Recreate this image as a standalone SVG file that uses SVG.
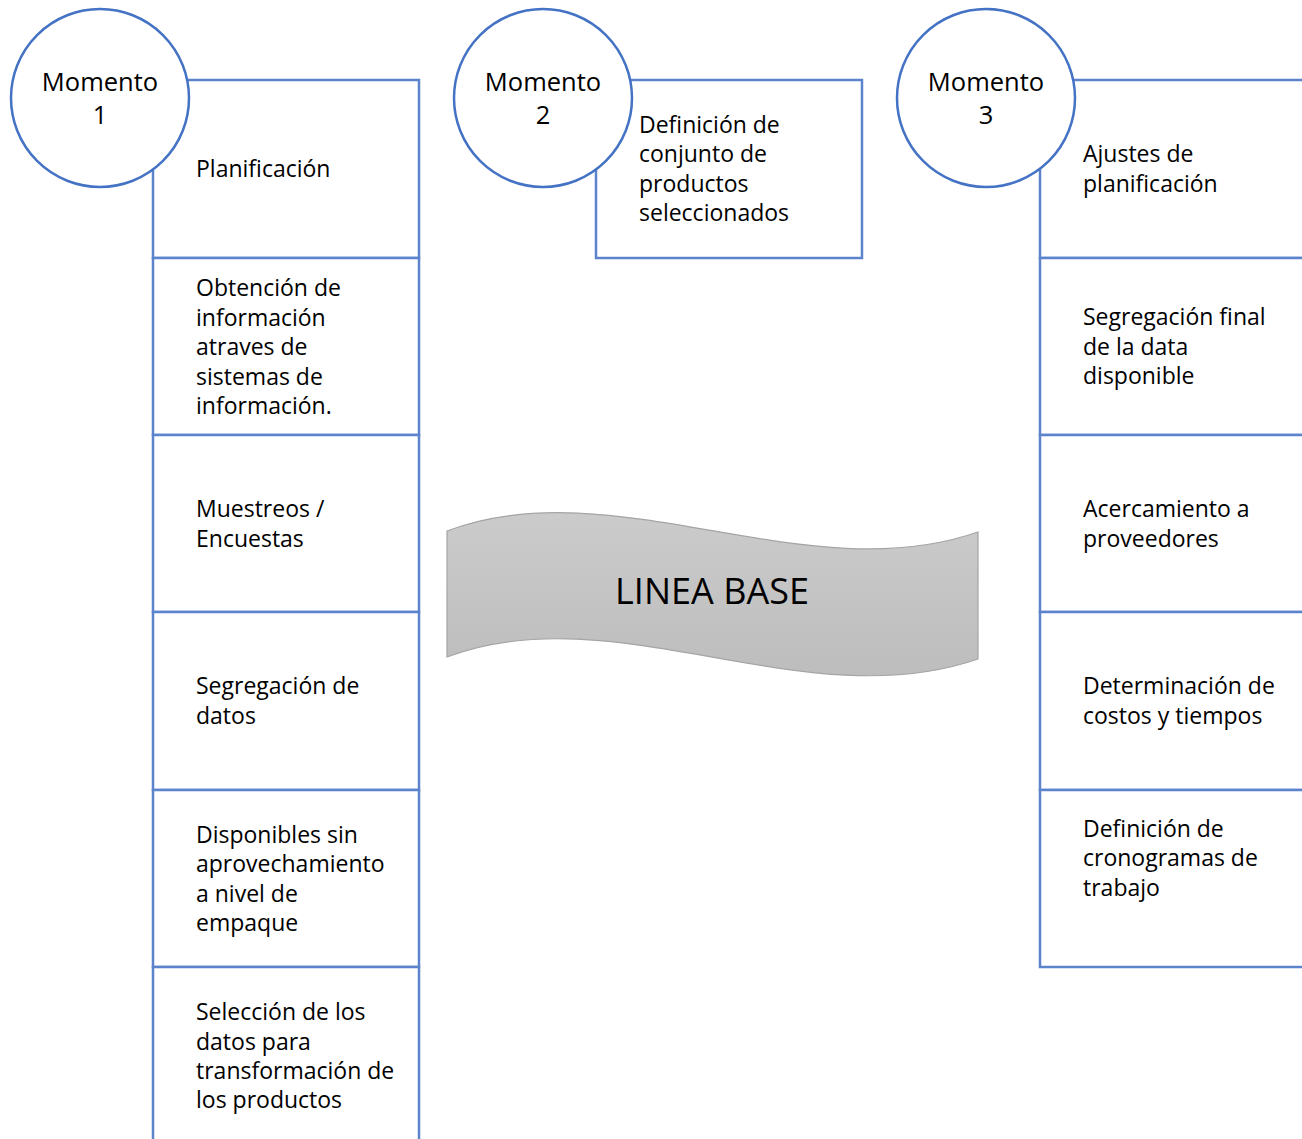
<svg xmlns="http://www.w3.org/2000/svg" width="1302" height="1139" viewBox="0 0 1302 1139">
  <defs>
    <linearGradient id="bannerFill" x1="0" y1="0" x2="0" y2="1">
      <stop offset="0" stop-color="#cbcbcb"/>
      <stop offset="1" stop-color="#bdbdbd"/>
    </linearGradient>
  </defs>
  <style>
    .box { fill: #ffffff; stroke: #5b84cc; stroke-width: 2.5; }
    .moment { fill: #ffffff; stroke: #4472c4; stroke-width: 2.5; }
    .label { font-family: "Open Sans", "Noto Sans", sans-serif; font-size: 23px; fill: #000000; }
    .title { font-family: "Open Sans", "Noto Sans", sans-serif; font-size: 25.5px; fill: #000000; text-anchor: middle; }
    .banner { fill: url(#bannerFill); stroke: #a5a5a5; stroke-width: 1.2; }
    .banner-text { font-family: "Open Sans", "Noto Sans", sans-serif; font-size: 36px; fill: #000000; text-anchor: middle; }
  </style>
  <rect width="1302" height="1139" fill="#ffffff"/>

  <!-- Column 1 steps -->
  <g id="m1-planificacion">
    <rect class="box" x="153" y="80" width="266" height="178"/>
    <text class="label" x="196" y="177">Planificación</text>
  </g>
  <g id="m1-obtencion">
    <rect class="box" x="153" y="258" width="266" height="177"/>
    <text class="label" x="196" y="296">Obtención de</text>
    <text class="label" x="196" y="325.5">información</text>
    <text class="label" x="196" y="355">atraves de</text>
    <text class="label" x="196" y="384.5">sistemas de</text>
    <text class="label" x="196" y="414">información.</text>
  </g>
  <g id="m1-muestreos">
    <rect class="box" x="153" y="435" width="266" height="177"/>
    <text class="label" x="196" y="517">Muestreos /</text>
    <text class="label" x="196" y="547">Encuestas</text>
  </g>
  <g id="m1-segregacion">
    <rect class="box" x="153" y="612" width="266" height="178"/>
    <text class="label" x="196" y="694">Segregación de</text>
    <text class="label" x="196" y="724">datos</text>
  </g>
  <g id="m1-disponibles">
    <rect class="box" x="153" y="790" width="266" height="177"/>
    <text class="label" x="196" y="843">Disponibles sin</text>
    <text class="label" x="196" y="872">aprovechamiento</text>
    <text class="label" x="196" y="902">a nivel de</text>
    <text class="label" x="196" y="931">empaque</text>
  </g>
  <g id="m1-seleccion">
    <rect class="box" x="153" y="967" width="266" height="185"/>
    <text class="label" x="196" y="1020">Selección de los</text>
    <text class="label" x="196" y="1050">datos para</text>
    <text class="label" x="196" y="1079">transformación de</text>
    <text class="label" x="196" y="1108">los productos</text>
  </g>

  <!-- Column 2 step -->
  <g id="m2-definicion">
    <rect class="box" x="596" y="80" width="266" height="178"/>
    <text class="label" x="639" y="133">Definición de</text>
    <text class="label" x="639" y="162">conjunto de</text>
    <text class="label" x="639" y="192">productos</text>
    <text class="label" x="639" y="221">seleccionados</text>
  </g>

  <!-- Column 3 steps -->
  <g id="m3-ajustes">
    <rect class="box" x="1040" y="80" width="266" height="178"/>
    <text class="label" x="1083" y="162">Ajustes de</text>
    <text class="label" x="1083" y="192">planificación</text>
  </g>
  <g id="m3-segregacion">
    <rect class="box" x="1040" y="258" width="266" height="177"/>
    <text class="label" x="1083" y="325">Segregación final</text>
    <text class="label" x="1083" y="355">de la data</text>
    <text class="label" x="1083" y="384">disponible</text>
  </g>
  <g id="m3-acercamiento">
    <rect class="box" x="1040" y="435" width="266" height="177"/>
    <text class="label" x="1083" y="517">Acercamiento a</text>
    <text class="label" x="1083" y="547">proveedores</text>
  </g>
  <g id="m3-costos">
    <rect class="box" x="1040" y="612" width="266" height="178"/>
    <text class="label" x="1083" y="694">Determinación de</text>
    <text class="label" x="1083" y="724">costos y tiempos</text>
  </g>
  <g id="m3-cronogramas">
    <rect class="box" x="1040" y="790" width="266" height="177"/>
    <text class="label" x="1083" y="837">Definición de</text>
    <text class="label" x="1083" y="866">cronogramas de</text>
    <text class="label" x="1083" y="896">trabajo</text>
  </g>

  <!-- Moment circles, drawn over the top-left corner of each column -->
  <g id="momento-1">
    <circle class="moment" cx="100" cy="98" r="89"/>
    <text class="title" x="100" y="91">Momento</text>
    <text class="title" x="100" y="124">1</text>
  </g>
  <g id="momento-2">
    <circle class="moment" cx="543" cy="98" r="89"/>
    <text class="title" x="543" y="91">Momento</text>
    <text class="title" x="543" y="124">2</text>
  </g>
  <g id="momento-3">
    <circle class="moment" cx="986" cy="98" r="89"/>
    <text class="title" x="986" y="91">Momento</text>
    <text class="title" x="986" y="124">3</text>
  </g>

  <!-- Wavy banner -->
  <g id="linea-base">
    <path class="banner" d="M447,531 C615,468 805,592 978,532 L978,659 C805,719 615,594 447,657 Z"/>
    <text class="banner-text" x="712" y="604">LINEA BASE</text>
  </g>

  <g id="connectors"/>
</svg>
